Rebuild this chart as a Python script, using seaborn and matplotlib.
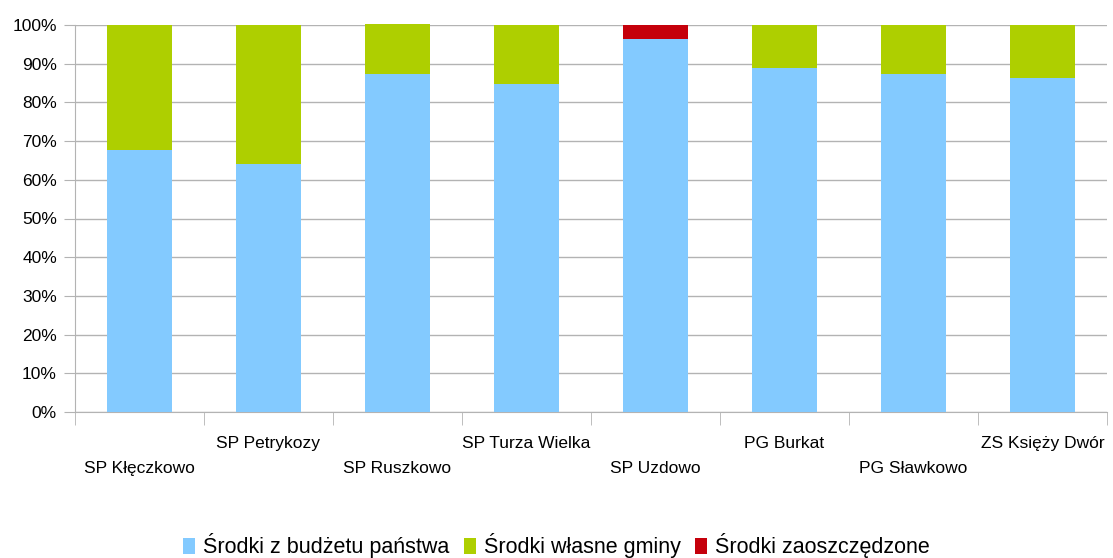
import matplotlib
matplotlib.use("Agg")
import matplotlib.pyplot as plt
import matplotlib.transforms as mtransforms
from matplotlib.patches import Patch
import pandas as pd
import seaborn as sns

schools = ["SP Kłęczkowo", "SP Petrykozy", "SP Ruszkowo", "SP Turza Wielka",
           "SP Uzdowo", "PG Burkat", "PG Sławkowo", "ZS Księży Dwór"]
budzet = [67.7, 64.1, 87.3, 84.8, 96.5, 88.9, 87.3, 86.2]
wlasne = [32.3, 35.9, 13.0, 15.2, 0.0, 11.1, 12.7, 13.8]
zaoszczedzone = [0.0, 0.0, 0.0, 0.0, 3.5, 0.0, 0.0, 0.0]
series_names = ["Środki z budżetu państwa", "Środki własne gminy", "Środki zaoszczędzone"]
colors = ["#83CAFF", "#AECF00", "#C5000B"]

df = pd.DataFrame({"school": schools, "budzet": budzet, "wlasne": wlasne, "zaosz": zaoszczedzone})
df["c1"] = df["budzet"]
df["c2"] = df["c1"] + df["wlasne"]
df["c3"] = df["c2"] + df["zaosz"]

sns.set_style("white")
plt.rcParams["font.family"] = ["Liberation Sans", "DejaVu Sans"]
plt.rcParams["text.color"] = "black"
plt.rcParams["xtick.color"] = "black"
plt.rcParams["ytick.color"] = "black"

fig = plt.figure(figsize=(11.13, 5.58), dpi=100)
ax = fig.add_axes([75 / 1113, (558 - 412) / 558, 1032 / 1113, 387 / 558])

# stacked bars: draw cumulative totals from the top down
for col, c in zip(["c3", "c2", "c1"], colors[::-1]):
    sns.barplot(data=df, x="school", y=col, color=c, width=0.5, saturation=1,
                linewidth=0, edgecolor="none", ax=ax, zorder=3)
for p in ax.patches:
    p.set_clip_on(False)

ax.set_xlim(-0.5, len(schools) - 0.5)
ax.set_ylim(0, 100)
ax.set_yticks(range(0, 101, 10))
ax.set_yticklabels([f"{v}%" for v in range(0, 101, 10)], fontsize=12.5)
ax.yaxis.grid(True, color="#b3b3b3", linewidth=1, zorder=0)
ax.set_axisbelow(True)
ax.set_xlabel("")
ax.set_ylabel("")

for s in ["top", "right"]:
    ax.spines[s].set_visible(False)
for s in ["left", "bottom"]:
    ax.spines[s].set_color("#b3b3b3")

ax.tick_params(axis="y", length=8, color="#b3b3b3", labelcolor="black", left=True, pad=5)
ax.set_xticks(range(len(schools)))
ax.set_xticklabels(schools, fontsize=12.5)
ax.set_xticks([i - 0.5 for i in range(len(schools) + 1)], minor=True)
ax.tick_params(axis="x", which="major", length=0, pad=17, labelcolor="black")
ax.tick_params(axis="x", which="minor", length=9, color="#b3b3b3", bottom=True)

for i, lab in enumerate(ax.get_xticklabels()):
    if i % 2 == 0:
        off = mtransforms.ScaledTranslation(0, -25 / 100, fig.dpi_scale_trans)
        lab.set_transform(lab.get_transform() + off)

handles = [Patch(facecolor=c, edgecolor="none") for c in colors]
fig.legend(handles, series_names, loc="lower center", bbox_to_anchor=(0.5, -0.035),
           ncol=3, frameon=False, fontsize=15.5, handlelength=0.55, handleheight=0.75,
           handletextpad=0.35, columnspacing=0.7)

fig.savefig("out.png", dpi=100)
